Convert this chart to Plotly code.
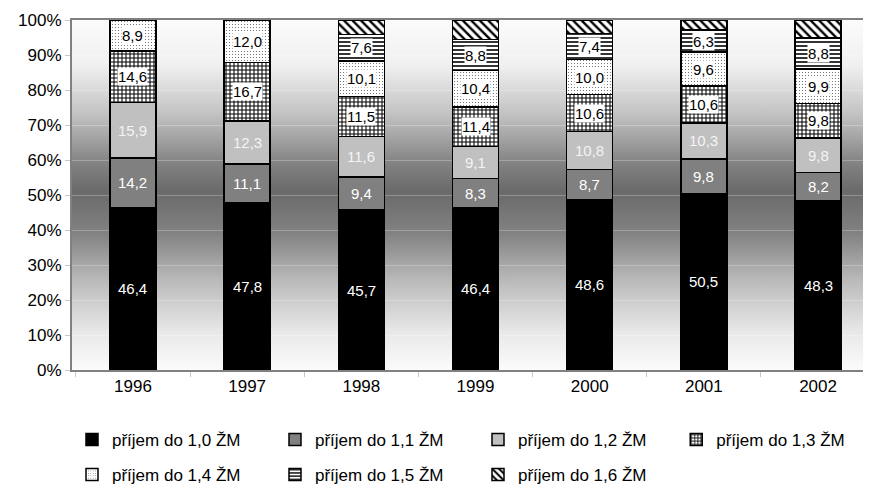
import base64
import plotly.graph_objects as go

years = ["1996", "1997", "1998", "1999", "2000", "2001", "2002"]

series_names = [
    "příjem do 1,0 ŽM",
    "příjem do 1,1 ŽM",
    "příjem do 1,2 ŽM",
    "příjem do 1,3 ŽM",
    "příjem do 1,4 ŽM",
    "příjem do 1,5 ŽM",
    "příjem do 1,6 ŽM",
]

do_10 = [46.4, 47.8, 45.7, 46.4, 48.6, 50.5, 48.3]
do_11 = [14.2, 11.1, 9.4, 8.3, 8.7, 9.8, 8.2]
do_12 = [15.9, 12.3, 11.6, 9.1, 10.8, 10.3, 9.8]
do_13 = [14.6, 16.7, 11.5, 11.4, 10.6, 10.6, 9.8]
do_14 = [8.9, 12.0, 10.1, 10.4, 10.0, 9.6, 9.9]
do_15 = [0, 0, 7.6, 8.8, 7.4, 6.3, 8.8]
do_16 = [0, 0, 4.1, 5.6, 3.9, 2.9, 5.2]

values = [do_10, do_11, do_12, do_13, do_14, do_15, do_16]

# fill style per series: (colour, pattern shape)
styles = [
    ("#000000", ""),
    ("#808080", ""),
    ("#c0c0c0", ""),
    ("#ffffff", "+"),
    ("#ffffff", "."),
    ("#ffffff", "-"),
    ("#ffffff", "\\"),
]
pattern_opts = {
    "+": dict(size=4, solidity=0.45, fgcolor="#000000"),
    ".": dict(size=3, solidity=0.12, fgcolor="#606060"),
    "-": dict(size=4, solidity=0.4, fgcolor="#000000"),
    "\\": dict(size=6, solidity=0.4, fgcolor="#000000"),
}
# which legend box each series goes into (4 on the first row, 3 on the second)
legend_of = ["legend", "legend", "legend", "legend3", "legend2", "legend2", "legend2"]

# gradient background of the plot area (svg)
svg = """<svg xmlns='http://www.w3.org/2000/svg' width='10' height='100' preserveAspectRatio='none'>
<defs><linearGradient id='g' x1='0' y1='0' x2='0' y2='1'>
<stop offset='0' stop-color='#fbfbfb'/>
<stop offset='0.13' stop-color='#f0f0f0'/>
<stop offset='0.27' stop-color='#c2c2c2'/>
<stop offset='0.41' stop-color='#828282'/>
<stop offset='0.49' stop-color='#6a6a6a'/>
<stop offset='0.61' stop-color='#828282'/>
<stop offset='0.75' stop-color='#bcbcbc'/>
<stop offset='0.89' stop-color='#e8e8e8'/>
<stop offset='1' stop-color='#fbfbfb'/>
</linearGradient></defs>
<rect x='0' y='0' width='10' height='100' fill='url(#g)'/></svg>"""
bg_src = "data:image/svg+xml;base64," + base64.b64encode(svg.encode()).decode()

fig = go.Figure()

for name, vals, (col, shape), lg in zip(series_names, values, styles, legend_of):
    marker = dict(color=col, line=dict(color="#000000", width=1.5))
    if shape:
        marker["pattern"] = dict(shape=shape, bgcolor="#ffffff",
                                 fillmode="replace", **pattern_opts[shape])
    fig.add_trace(go.Bar(
        x=years, y=vals, name=name, marker=marker,
        hoverinfo="name+y", legend=lg,
    ))

# value labels
annotations = []
base = [0.0] * len(years)
for i, vals in enumerate(values):
    for j, v in enumerate(vals):
        if v > 0 and i < 6:
            txt = f"{v:.1f}".replace(".", ",")
            if i < 3:
                annotations.append(dict(
                    x=j, y=base[j] + v / 2, text=txt, showarrow=False,
                    font=dict(family="Liberation Sans, Arial", size=15,
                              color="#ffffff" if i < 2 else "#f4f4f4"),
                ))
            else:
                annotations.append(dict(
                    x=j, y=base[j] + v / 2, text=txt, showarrow=False,
                    bgcolor="#ffffff", borderpad=0,
                    font=dict(family="Liberation Sans, Arial", size=15, color="#000000"),
                ))
        base[j] += v

legend_common = dict(
    orientation="h", xanchor="left", yanchor="middle",
    entrywidth=158, entrywidthmode="pixels", traceorder="normal",
    font=dict(size=17), itemwidth=30, bgcolor="rgba(0,0,0,0)",
)

# page body has an 8px margin, so the figure is 8px smaller than the window
fig.update_layout(
    barmode="stack",
    bargap=0.597,
    width=863,
    height=483,
    margin=dict(l=64, r=5, t=12, b=121, autoexpand=False),
    paper_bgcolor="#ffffff",
    plot_bgcolor="rgba(0,0,0,0)",
    font=dict(family="Liberation Sans, Arial", size=16, color="#000000"),
    annotations=annotations,
    images=[dict(
        source=bg_src, xref="paper", yref="paper", x=0, y=1, sizex=1, sizey=1,
        xanchor="left", yanchor="top", sizing="stretch", layer="below",
    )],
    legend=dict(x=0.0, y=-0.2, **legend_common),
    legend3=dict(x=0.761, y=-0.2, **legend_common),
    legend2=dict(x=0.0, y=-0.3, **legend_common),
    showlegend=True,
)

fig.update_yaxes(
    range=[0, 100], dtick=10, ticksuffix="%",
    showgrid=True, gridcolor="rgba(255,255,255,0.25)", gridwidth=1,
    showline=True, linecolor="#808080", linewidth=2, mirror=True,
    ticks="outside", ticklen=5, tickcolor="#c8c8c8",
    zeroline=False, tickfont=dict(size=17), automargin=False,
)
fig.update_xaxes(
    type="category", range=[-0.534, 6.42],
    showline=True, linecolor="#808080", linewidth=2, mirror=True,
    ticks="outside", tickson="boundaries", ticklen=5, tickcolor="#c8c8c8",
    tickfont=dict(size=17), showgrid=False, automargin=False,
)

fig.write_html("out.html")
